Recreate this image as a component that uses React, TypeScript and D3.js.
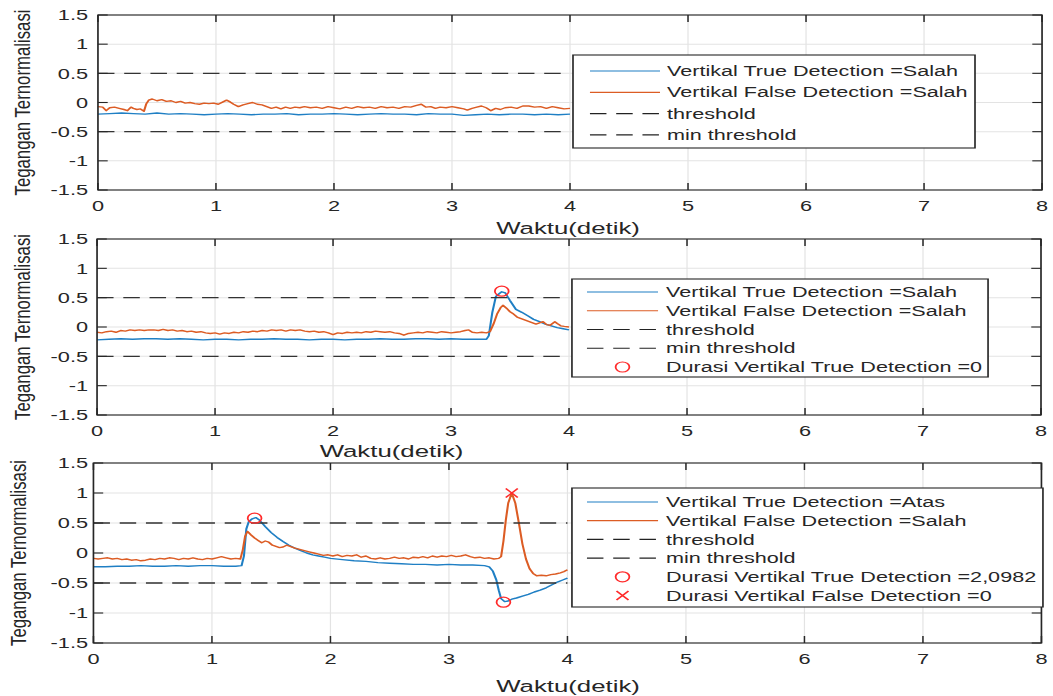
import React, { useEffect, useRef } from 'react'
import * as d3 from 'd3'

// the reference figure is a MATLAB export stretched sideways, so we draw in a
// narrower box and let the svg stretch it to full width
const W = 702
const H = 696
const OUT_W = 1053

const xTicks = [0, 1, 2, 3, 4, 5, 6, 7, 8]
const yTicks = [-1.5, -1, -0.5, 0, 0.5, 1, 1.5]
const yTickLabels = ['-1.5', '-1', '-0.5', '0', '0.5', '1', '1.5']
const thresholdLevel = 0.5
const minThresholdLevel = -0.5
const timeEnd = 4

// panel 1
const p1True: [number, number][] = [
  [0, -0.2], [0.1, -0.19], [0.2, -0.18], [0.3, -0.19], [0.4, -0.2], [0.5, -0.18], [0.6, -0.2], [0.7, -0.19],
  [0.8, -0.2], [0.9, -0.21], [1.0, -0.2], [1.1, -0.19], [1.2, -0.2], [1.3, -0.21], [1.4, -0.2], [1.5, -0.2],
  [1.6, -0.19], [1.7, -0.21], [1.8, -0.2], [1.9, -0.2], [2.0, -0.19], [2.1, -0.2], [2.2, -0.21], [2.3, -0.2],
  [2.4, -0.19], [2.5, -0.2], [2.6, -0.2], [2.7, -0.21], [2.8, -0.19], [2.9, -0.2], [3.0, -0.2], [3.1, -0.22],
  [3.2, -0.21], [3.3, -0.2], [3.4, -0.21], [3.5, -0.2], [3.6, -0.2], [3.7, -0.21], [3.8, -0.2], [3.9, -0.21], [4.0, -0.2],
]
const p1False: [number, number][] = [
  [0, -0.07], [0.04, -0.08], [0.07, -0.14], [0.1, -0.09], [0.14, -0.08], [0.18, -0.1], [0.22, -0.12], [0.25, -0.14],
  [0.28, -0.08], [0.3, -0.1], [0.33, -0.12], [0.36, -0.11], [0.39, -0.15], [0.41, -0.02], [0.43, 0.04], [0.46, 0.06],
  [0.5, 0.03], [0.54, 0.05], [0.58, 0.02], [0.62, 0.03], [0.66, 0.0], [0.7, 0.02], [0.74, -0.01], [0.78, 0.0],
  [0.82, -0.02], [0.86, -0.03], [0.9, -0.01], [0.94, -0.02], [0.98, -0.01], [1.02, -0.03], [1.06, 0.01], [1.09, 0.04],
  [1.12, 0.01], [1.15, -0.03], [1.19, -0.07], [1.23, -0.04], [1.27, -0.02], [1.31, 0.0], [1.35, -0.03], [1.39, -0.04],
  [1.43, -0.07], [1.47, -0.1], [1.51, -0.08], [1.55, -0.11], [1.59, -0.08], [1.63, -0.1], [1.67, -0.08], [1.71, -0.09],
  [1.75, -0.07], [1.8, -0.09], [1.85, -0.08], [1.9, -0.1], [1.95, -0.07], [2.0, -0.09], [2.05, -0.11], [2.1, -0.08],
  [2.15, -0.1], [2.2, -0.07], [2.25, -0.09], [2.3, -0.08], [2.35, -0.1], [2.4, -0.07], [2.45, -0.09], [2.5, -0.08],
  [2.55, -0.1], [2.6, -0.07], [2.65, -0.08], [2.7, -0.05], [2.74, -0.03], [2.78, -0.08], [2.82, -0.07], [2.86, -0.1],
  [2.9, -0.08], [2.95, -0.09], [3.0, -0.07], [3.05, -0.09], [3.1, -0.11], [3.13, -0.13], [3.17, -0.1], [3.21, -0.08],
  [3.25, -0.06], [3.29, -0.09], [3.33, -0.14], [3.37, -0.1], [3.41, -0.12], [3.45, -0.09], [3.5, -0.08], [3.55, -0.1],
  [3.6, -0.06], [3.65, -0.06], [3.7, -0.08], [3.75, -0.07], [3.8, -0.1], [3.85, -0.07], [3.9, -0.09], [3.95, -0.11], [4.0, -0.1],
]

// panel 2
const p2True: [number, number][] = [
  [0, -0.22], [0.1, -0.21], [0.2, -0.2], [0.3, -0.21], [0.4, -0.2], [0.5, -0.2], [0.6, -0.21], [0.7, -0.2],
  [0.8, -0.21], [0.9, -0.22], [1.0, -0.21], [1.1, -0.21], [1.2, -0.22], [1.3, -0.21], [1.4, -0.21], [1.5, -0.2],
  [1.6, -0.21], [1.7, -0.21], [1.8, -0.22], [1.9, -0.21], [2.0, -0.21], [2.1, -0.22], [2.2, -0.21], [2.3, -0.21],
  [2.4, -0.2], [2.5, -0.21], [2.6, -0.21], [2.7, -0.2], [2.8, -0.2], [2.9, -0.21], [3.0, -0.2], [3.1, -0.21],
  [3.2, -0.21], [3.3, -0.21], [3.32, -0.15], [3.35, 0.25], [3.38, 0.52], [3.41, 0.57], [3.43, 0.6], [3.46, 0.58],
  [3.5, 0.45], [3.55, 0.3], [3.6, 0.25], [3.65, 0.19], [3.7, 0.13], [3.75, 0.09], [3.8, 0.05], [3.85, 0.02],
  [3.9, -0.01], [3.95, -0.03], [4.0, -0.05],
]
const p2False: [number, number][] = [
  [0, -0.09], [0.04, -0.1], [0.08, -0.08], [0.12, -0.07], [0.16, -0.09], [0.2, -0.06], [0.24, -0.07], [0.28, -0.05],
  [0.32, -0.06], [0.36, -0.05], [0.4, -0.06], [0.44, -0.05], [0.48, -0.05], [0.52, -0.06], [0.56, -0.04], [0.6, -0.06],
  [0.64, -0.05], [0.68, -0.07], [0.72, -0.06], [0.76, -0.08], [0.8, -0.07], [0.84, -0.09], [0.88, -0.08], [0.92, -0.1],
  [0.96, -0.11], [1.0, -0.1], [1.04, -0.12], [1.08, -0.1], [1.12, -0.11], [1.16, -0.09], [1.2, -0.1], [1.24, -0.08],
  [1.28, -0.09], [1.32, -0.07], [1.36, -0.08], [1.4, -0.06], [1.44, -0.07], [1.48, -0.05], [1.52, -0.06], [1.56, -0.05],
  [1.6, -0.07], [1.64, -0.05], [1.68, -0.06], [1.72, -0.05], [1.76, -0.07], [1.8, -0.08], [1.84, -0.07], [1.88, -0.09],
  [1.92, -0.08], [1.96, -0.1], [2.0, -0.13], [2.04, -0.1], [2.08, -0.11], [2.12, -0.09], [2.16, -0.1], [2.2, -0.09],
  [2.24, -0.1], [2.28, -0.08], [2.32, -0.09], [2.36, -0.07], [2.4, -0.08], [2.44, -0.09], [2.48, -0.08], [2.52, -0.1],
  [2.56, -0.11], [2.6, -0.14], [2.64, -0.11], [2.68, -0.1], [2.72, -0.09], [2.76, -0.1], [2.8, -0.08], [2.84, -0.09],
  [2.88, -0.1], [2.92, -0.08], [2.96, -0.09], [3.0, -0.1], [3.04, -0.09], [3.08, -0.08], [3.12, -0.06], [3.15, -0.05],
  [3.18, -0.09], [3.22, -0.1], [3.26, -0.09], [3.3, -0.1], [3.33, -0.08], [3.36, 0.05], [3.39, 0.22], [3.42, 0.33],
  [3.44, 0.37], [3.47, 0.32], [3.5, 0.26], [3.53, 0.22], [3.56, 0.17], [3.6, 0.14], [3.64, 0.11], [3.68, 0.08],
  [3.72, 0.05], [3.75, 0.07], [3.78, 0.09], [3.81, 0.04], [3.84, 0.03], [3.88, 0.09], [3.9, 0.06], [3.93, 0.02],
  [3.96, 0.01], [4.0, 0.0],
]
const p2TrueMarks: [number, number][] = [[3.43, 0.61]]

// panel 3
const p3True: [number, number][] = [
  [0, -0.23], [0.1, -0.23], [0.2, -0.22], [0.3, -0.22], [0.4, -0.21], [0.5, -0.22], [0.6, -0.22], [0.7, -0.21],
  [0.8, -0.22], [0.9, -0.21], [1.0, -0.21], [1.1, -0.22], [1.2, -0.22], [1.25, -0.21], [1.27, -0.05], [1.29, 0.4],
  [1.31, 0.52], [1.34, 0.57], [1.37, 0.59], [1.4, 0.55], [1.45, 0.44], [1.5, 0.34], [1.55, 0.26], [1.6, 0.19],
  [1.65, 0.13], [1.7, 0.08], [1.75, 0.04], [1.8, 0.0], [1.85, -0.03], [1.9, -0.05], [1.95, -0.07], [2.0, -0.09],
  [2.1, -0.11], [2.2, -0.13], [2.3, -0.14], [2.4, -0.16], [2.5, -0.17], [2.6, -0.18], [2.7, -0.19], [2.8, -0.19],
  [2.9, -0.2], [3.0, -0.19], [3.1, -0.2], [3.2, -0.2], [3.3, -0.21], [3.34, -0.23], [3.37, -0.3], [3.4, -0.45],
  [3.42, -0.62], [3.44, -0.76], [3.47, -0.81], [3.5, -0.8], [3.53, -0.77], [3.57, -0.75], [3.62, -0.72], [3.67, -0.69],
  [3.72, -0.65], [3.77, -0.62], [3.82, -0.58], [3.87, -0.53], [3.92, -0.48], [3.96, -0.45], [4.0, -0.42],
]
const p3False: [number, number][] = [
  [0, -0.09], [0.04, -0.1], [0.08, -0.09], [0.12, -0.08], [0.16, -0.1], [0.2, -0.09], [0.24, -0.11], [0.28, -0.1],
  [0.32, -0.12], [0.36, -0.11], [0.4, -0.13], [0.44, -0.12], [0.48, -0.1], [0.52, -0.11], [0.56, -0.09], [0.6, -0.1],
  [0.64, -0.08], [0.68, -0.09], [0.72, -0.11], [0.76, -0.09], [0.8, -0.1], [0.84, -0.08], [0.88, -0.1], [0.92, -0.11],
  [0.96, -0.09], [1.0, -0.1], [1.04, -0.08], [1.08, -0.06], [1.12, -0.08], [1.16, -0.1], [1.2, -0.09], [1.24, -0.1],
  [1.26, 0.05], [1.28, 0.28], [1.3, 0.36], [1.33, 0.3], [1.36, 0.25], [1.39, 0.21], [1.42, 0.17], [1.45, 0.2],
  [1.48, 0.18], [1.51, 0.13], [1.54, 0.11], [1.57, 0.09], [1.6, 0.1], [1.63, 0.13], [1.66, 0.11], [1.7, 0.08],
  [1.74, 0.06], [1.78, 0.04], [1.82, 0.02], [1.86, 0.0], [1.9, -0.02], [1.94, -0.04], [1.98, -0.03], [2.02, -0.05],
  [2.06, -0.03], [2.1, -0.06], [2.14, -0.04], [2.18, -0.05], [2.22, -0.03], [2.26, -0.07], [2.3, -0.05], [2.34, -0.09],
  [2.38, -0.1], [2.42, -0.08], [2.46, -0.1], [2.5, -0.09], [2.54, -0.07], [2.58, -0.09], [2.62, -0.08], [2.66, -0.1],
  [2.7, -0.07], [2.74, -0.08], [2.78, -0.06], [2.82, -0.08], [2.86, -0.05], [2.9, -0.07], [2.94, -0.05], [2.98, -0.06],
  [3.02, -0.04], [3.06, -0.06], [3.1, -0.05], [3.14, -0.03], [3.18, -0.06], [3.22, -0.08], [3.26, -0.07], [3.3, -0.09],
  [3.34, -0.08], [3.38, -0.1], [3.42, -0.09], [3.44, -0.06], [3.46, 0.2], [3.48, 0.55], [3.5, 0.83], [3.53, 1.0],
  [3.56, 0.83], [3.59, 0.5], [3.62, 0.15], [3.65, -0.1], [3.68, -0.26], [3.71, -0.34], [3.74, -0.38], [3.78, -0.37],
  [3.82, -0.38], [3.86, -0.36], [3.9, -0.35], [3.94, -0.33], [3.97, -0.31], [4.0, -0.28],
]
const p3TrueMarks: [number, number][] = [[1.36, 0.58], [3.46, -0.82]]
const p3FalseMarks: [number, number][] = [[3.53, 1.0]]

const legend1 = ['Vertikal True Detection =Salah', 'Vertikal False Detection =Salah', 'threshold', 'min threshold']
const legend2 = [...legend1, 'Durasi Vertikal True Detection =0']
const legend3 = [
  'Vertikal True Detection =Atas', 'Vertikal False Detection =Salah', 'threshold', 'min threshold',
  'Durasi Vertikal True Detection =2,0982', 'Durasi Vertikal False Detection =0',
]

const BLUE = '#1f7fc4'
const ORANGE = '#dc5c24'
const RED = '#ff2a2a'
const AXIS = '#262626'
const GRID = '#e3e3e3'
const FONT = '"Liberation Sans", Arial, Helvetica, sans-serif'

const panels = [
  {
    left: 65.3, right: 694.7, top: 15, bottom: 190,
    trueSeries: p1True, falseSeries: p1False, trueMarks: [], falseMarks: [],
    legend: { x: 382, y: 55, w: 268, h: 93, row0: 71, dy: 21.3, labels: legend1 },
    xlabel: { x: 378.7, y: 234 },
  },
  {
    left: 64.7, right: 694, top: 239, bottom: 415,
    trueSeries: p2True, falseSeries: p2False, trueMarks: p2TrueMarks, falseMarks: [],
    legend: { x: 381.3, y: 279, w: 277.4, h: 98, row0: 292, dy: 18.75, labels: legend2 },
    xlabel: { x: 261, y: 457 },
  },
  {
    left: 62.3, right: 694.3, top: 463, bottom: 643,
    trueSeries: p3True, falseSeries: p3False, trueMarks: p3TrueMarks, falseMarks: p3FalseMarks,
    legend: { x: 381.3, y: 488, w: 314, h: 119, row0: 502, dy: 18.7, labels: legend3 },
    xlabel: { x: 378.7, y: 692 },
  },
]

function App() {
  const node = useRef<SVGSVGElement>(null)

  useEffect(() => {
    const svg = d3.select(node.current)
    svg.selectAll('*').remove()
    svg.append('rect').attr('width', W).attr('height', H).attr('fill', '#fff')

    panels.forEach((p, i) => {
      const x = d3.scaleLinear().domain([0, 8]).range([p.left, p.right])
      const y = d3.scaleLinear().domain([-1.5, 1.5]).range([p.bottom, p.top])
      const g = svg.append('g')

      g.append('rect').attr('x', p.left).attr('y', p.top)
        .attr('width', p.right - p.left).attr('height', p.bottom - p.top).attr('fill', '#fff')

      // grid
      g.selectAll('.gx').data(xTicks).enter().append('line')
        .attr('x1', d => x(d)).attr('x2', d => x(d)).attr('y1', p.top).attr('y2', p.bottom)
        .attr('stroke', GRID).attr('stroke-width', 0.8)
      g.selectAll('.gy').data(yTicks).enter().append('line')
        .attr('x1', p.left).attr('x2', p.right).attr('y1', d => y(d)).attr('y2', d => y(d))
        .attr('stroke', GRID).attr('stroke-width', 1)

      const line = d3.line<[number, number]>().x(d => x(d[0])).y(d => y(d[1]))

      g.append('path').attr('d', line(p.trueSeries)).attr('fill', 'none')
        .attr('stroke', BLUE).attr('stroke-width', 1.4).attr('stroke-linejoin', 'round')
      g.append('path').attr('d', line(p.falseSeries)).attr('fill', 'none')
        .attr('stroke', ORANGE).attr('stroke-width', 1.4).attr('stroke-linejoin', 'round')

      ;[thresholdLevel, minThresholdLevel].forEach(v => {
        g.append('line').attr('x1', x(0)).attr('x2', x(timeEnd)).attr('y1', y(v)).attr('y2', y(v))
          .attr('stroke', '#333').attr('stroke-width', 1.3).attr('stroke-dasharray', '11 6.5')
      })

      g.selectAll('.mo').data(p.trueMarks).enter().append('ellipse')
        .attr('cx', d => x(d[0])).attr('cy', d => y(d[1])).attr('rx', 4.6).attr('ry', 5)
        .attr('fill', 'none').attr('stroke', RED).attr('stroke-width', 1.2)
      p.falseMarks.forEach(d => {
        const cx = x(d[0]), cy = y(d[1])
        g.append('path').attr('d', `M${cx - 4},${cy - 4.5}L${cx + 4},${cy + 4.5}M${cx - 4},${cy + 4.5}L${cx + 4},${cy - 4.5}`)
          .attr('stroke', RED).attr('stroke-width', 1.2)
      })

      // axes box and ticks
      g.append('rect').attr('x', p.left).attr('y', p.top)
        .attr('width', p.right - p.left).attr('height', p.bottom - p.top)
        .attr('fill', 'none').attr('stroke', AXIS).attr('stroke-width', 1.1)
      xTicks.forEach(t => {
        g.append('line').attr('x1', x(t)).attr('x2', x(t)).attr('y1', p.bottom).attr('y2', p.bottom - 7)
          .attr('stroke', AXIS).attr('stroke-width', 1)
        g.append('line').attr('x1', x(t)).attr('x2', x(t)).attr('y1', p.top).attr('y2', p.top + 7)
          .attr('stroke', AXIS).attr('stroke-width', 1)
      })
      yTicks.forEach(t => {
        g.append('line').attr('x1', p.left).attr('x2', p.left + 6.5).attr('y1', y(t)).attr('y2', y(t))
          .attr('stroke', AXIS).attr('stroke-width', 1.1)
        g.append('line').attr('x1', p.right).attr('x2', p.right - 6.5).attr('y1', y(t)).attr('y2', y(t))
          .attr('stroke', AXIS).attr('stroke-width', 1.1)
      })

      g.selectAll('.xl').data(xTicks).enter().append('text')
        .attr('x', d => x(d)).attr('y', p.bottom + 21).attr('text-anchor', 'middle')
        .attr('font-size', 14.5).attr('fill', AXIS).attr('font-family', FONT).text(d => String(d))
      g.selectAll('.yl').data(yTicks).enter().append('text')
        .attr('x', 58.7).attr('y', d => y(d)).attr('dy', '0.36em').attr('text-anchor', 'end')
        .attr('font-size', 14.5).attr('fill', AXIS).attr('font-family', FONT)
        .text((d, k) => yTickLabels[k])

      g.append('text').attr('x', p.xlabel.x).attr('y', p.xlabel.y).attr('text-anchor', 'middle')
        .attr('font-size', 17.2).attr('fill', AXIS).attr('font-family', FONT).text('Waktu(detik)')

      const cy = (p.top + p.bottom) / 2
      g.append('text').attr('transform', `translate(${p.left - 45},${cy}) rotate(-90)`)
        .attr('text-anchor', 'middle').attr('font-size', 14.5).attr('fill', AXIS).attr('font-family', FONT)
        .attr('textLength', 186).attr('lengthAdjust', 'spacingAndGlyphs')
        .text('Tegangan Ternormalisasi')

      // legend
      const L = p.legend
      const lg = g.append('g')
      lg.append('rect').attr('x', L.x).attr('y', L.y).attr('width', L.w).attr('height', L.h)
        .attr('fill', '#fff').attr('stroke', AXIS).attr('stroke-width', 1.1)
      const lx0 = i === 0 ? 393.3 : 391.3
      const lx1 = i === 0 ? 440 : 438.7
      const tx = i === 0 ? 444.7 : 444
      L.labels.forEach((label, k) => {
        const ry = L.row0 + k * L.dy
        if (k === 0 || k === 1) {
          lg.append('line').attr('x1', lx0).attr('x2', lx1).attr('y1', ry).attr('y2', ry)
            .attr('stroke', k === 0 ? BLUE : ORANGE).attr('stroke-width', 1.2)
        } else if (k === 2 || k === 3) {
          lg.append('line').attr('x1', lx0).attr('x2', lx1).attr('y1', ry).attr('y2', ry)
            .attr('stroke', '#222').attr('stroke-width', 1.2).attr('stroke-dasharray', '11 6.5')
        } else if (k === 4) {
          lg.append('ellipse').attr('cx', (lx0 + lx1) / 2).attr('cy', ry).attr('rx', 4.6).attr('ry', 5)
            .attr('fill', 'none').attr('stroke', RED).attr('stroke-width', 1.2)
        } else {
          const cx = (lx0 + lx1) / 2
          lg.append('path').attr('d', `M${cx - 4},${ry - 4.5}L${cx + 4},${ry + 4.5}M${cx - 4},${ry + 4.5}L${cx + 4},${ry - 4.5}`)
            .attr('stroke', RED).attr('stroke-width', 1.2)
        }
        lg.append('text').attr('x', tx).attr('y', ry).attr('dy', '0.36em')
          .attr('font-size', 14.4).attr('fill', AXIS).attr('font-family', FONT).text(label)
      })
    })
  }, [])

  return (
    <div>
      <svg ref={node} width={OUT_W} height={H} viewBox={`0 0 ${W} ${H}`} preserveAspectRatio="none"
        style={{ position: 'absolute', left: 0, top: 0, display: 'block' }} />
    </div>
  )
}

export default App
